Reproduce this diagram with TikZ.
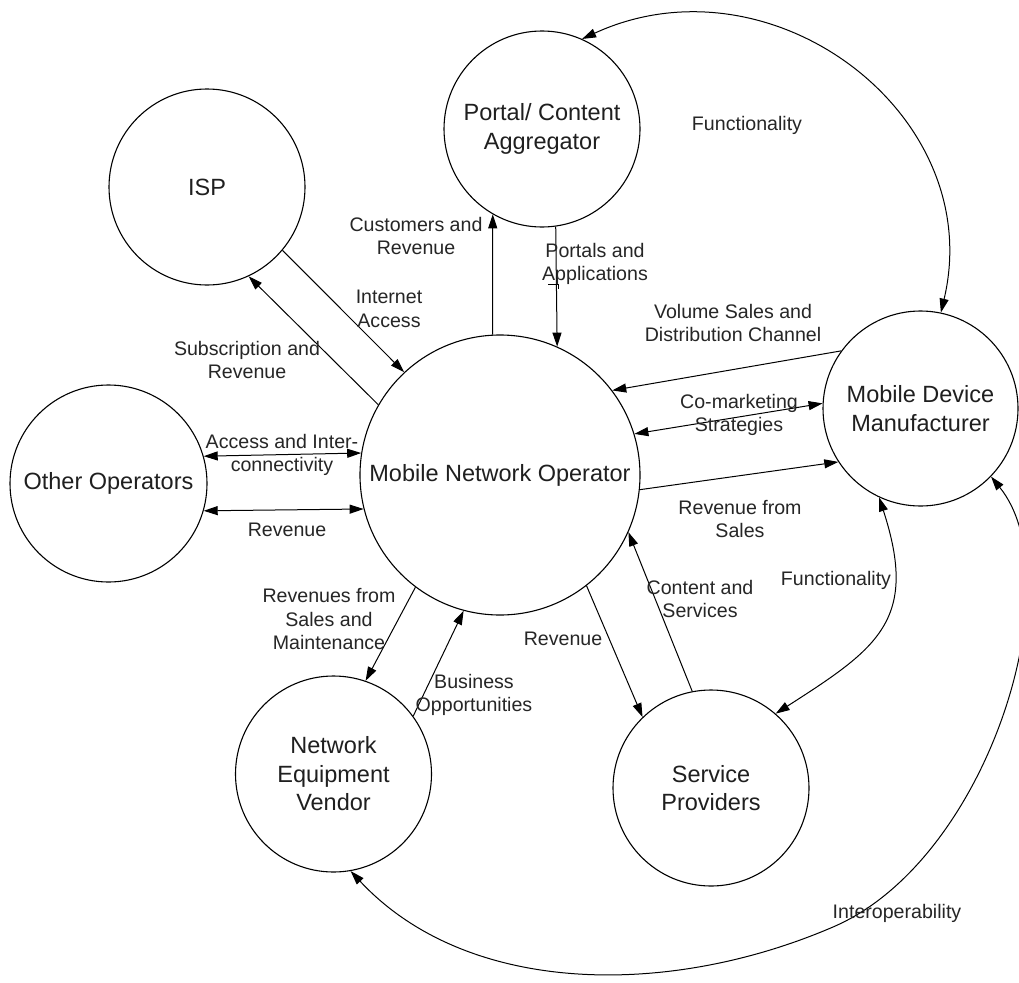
\documentclass[tikz,border=0pt]{standalone}
\usepackage{fontspec}
\setmainfont{Liberation Sans}
\usetikzlibrary{arrows.meta}
\begin{document}
\begin{tikzpicture}[x=1pt,y=-1pt,
  actor/.style={draw, circle, line width=1.1pt, inner sep=0pt, minimum size=196pt,
    align=center, text=black!88, font=\fontsize{23.5}{28.5}\selectfont},
  lbl/.style={align=center, inner sep=0pt, text=black!85, font=\fontsize{19.6}{23.6}\selectfont},
  tip/.style={-{Triangle[length=14pt,width=9pt]}},
  flow/.style={line width=1pt, tip},
  both/.style={line width=1pt, {Triangle[length=14pt,width=9pt]}-{Triangle[length=14pt,width=9pt]}}]
\useasboundingbox (0,0) rectangle (1019,982);
\fill[white] (0,0) rectangle (1019,982);

% actors
\node[actor, minimum size=280pt] (mno) at (500,475) {Mobile Network Operator};
\node[actor] (portal) at (542,129) {Portal/ Content\\Aggregator};
\node[actor] (isp) at (207,187) {ISP};
\node[actor, minimum size=197pt] (oo) at (108.5,483.5) {Other Operators};
\node[actor, minimum size=195pt] (mdm) at (920.5,408.5) {Mobile Device\\Manufacturer};
\node[actor] (nev) at (333.5,774) {Network\\Equipment\\Vendor};
\node[actor] (sp) at (711,788) {Service\\Providers};

% straight flows
\draw[flow] (mno.93) -- (portal.240);
\draw[flow] (portal.-82) -- (mno.66.4);
\coordinate (jump) at (556,284);
\draw[line width=0.9pt] ([xshift=-8pt]jump) -- ([xshift=2pt]jump) -- ([xshift=2pt,yshift=-5pt]jump);
\draw[flow] (isp.-40) -- (mno.133);
\draw[flow] (mno.150.5) -- (isp.-65.5);
\draw[both] (oo.16.8) -- (mno.171.8);
\draw[both] (oo.-16) -- (mno.194);
\draw[flow] (mno.233.5) -- (nev.71.1);
\draw[flow] (nev.36.6) -- (mno.255.5);
\draw[flow] (mno.-52.2) -- (sp.134.2);
\draw[flow] (sp.101.2) -- (mno.-24.5);
\draw[flow] (mdm.144.9) -- (mno.37);
\draw[both] (mno.17.5) -- (mdm.177.9);
\draw[flow] (mno.-6.8) -- (mdm.213.4);

% curved flows
\draw[both] (portal.66) .. controls (771,-48) and (988,114) .. (mdm.78);
\draw[both] (mdm.245) .. controls (919,620) and (878,648) .. (sp.49);
\draw[both] (mdm.-44) .. controls (1074,579) and (989,860) .. (833,927)
  .. controls (668,998) and (467,996) .. (nev.-80);

% flow labels
\node[lbl] (l1) at (747,125) {Functionality};
\node[lbl] (l2) at (416,236) {Customers and\\Revenue};
\node[lbl] (l3) at (595,264) {Portals and\\Applications};
\node[lbl] (l4) at (389,309) {Internet\\Access};
\node[lbl] (l5) at (247,360) {Subscription and\\Revenue};
\node[lbl] (l6) at (733,323) {Volume Sales and\\Distribution Channel};
\node[lbl] (l7) at (282,455) {Access and Inter-\\connectivity};
\node[lbl] (l8) at (739,415) {Co-marketing\\Strategies};
\node[lbl] (l9) at (287,530) {Revenue};
\node[lbl] (l10) at (740,519) {Revenue from\\Sales};
\node[lbl] (l11) at (329,619) {Revenues from\\Sales and\\Maintenance};
\node[lbl] (l12) at (700,599) {Content and\\Services};
\node[lbl] (l13) at (836,580) {Functionality};
\node[lbl] (l14) at (563,639) {Revenue};
\node[lbl] (l15) at (474,695) {Business\\Opportunities};
\node[lbl] (l16) at (897,913) {Interoperability};
\end{tikzpicture}
\end{document}
